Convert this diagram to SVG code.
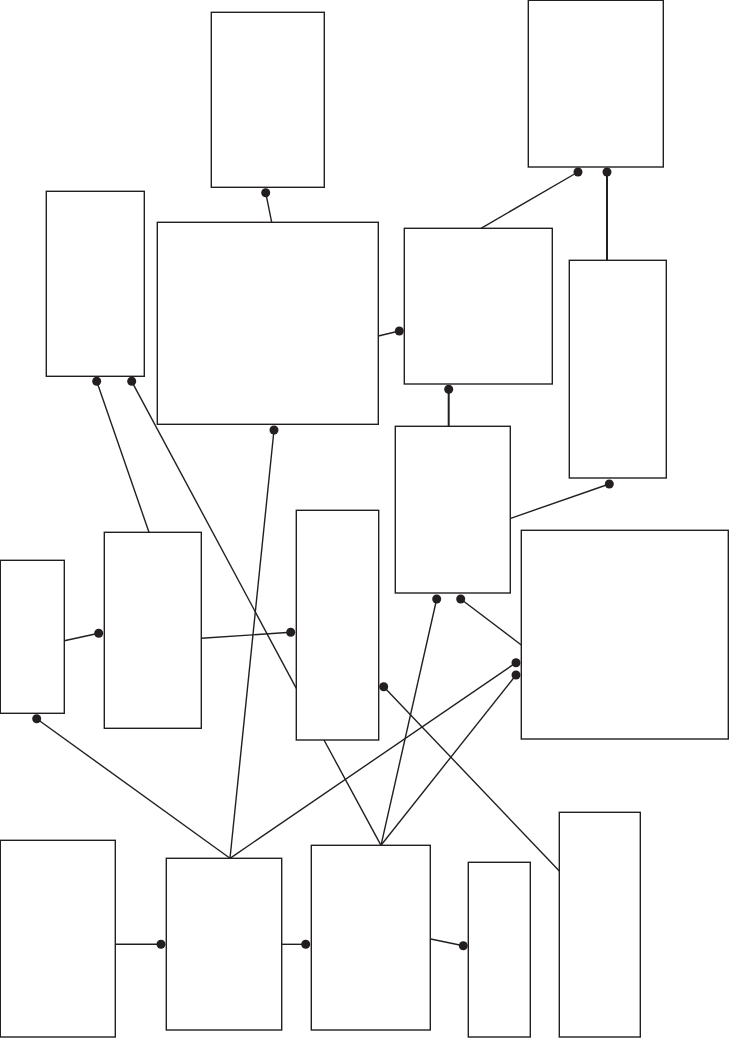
<svg xmlns="http://www.w3.org/2000/svg" width="729" height="1038" viewBox="0 0 729 1038">
<style>
.n{fill:#fff;stroke:#231f20;stroke-width:1.4}
.c line{stroke:#231f20;stroke-width:1.4;fill:none}
.c circle{fill:#231f20}
</style>
<rect width="729" height="1038" fill="#fff"/>
<g id="nodes">
<g id="nA"><rect class="n" x="211.3" y="12.3" width="113" height="175"/></g>
<g id="nB"><rect class="n" x="157.3" y="222.3" width="221" height="202"/></g>
<g id="nC"><rect class="n" x="46.3" y="191.3" width="98" height="185"/></g>
<g id="nD"><rect class="n" x="528.3" y="0.3" width="135" height="166.7"/></g>
<g id="nE"><rect class="n" x="404.3" y="228.3" width="148" height="155.7"/></g>
<g id="nF"><rect class="n" x="569.3" y="260.3" width="97" height="217.7"/></g>
<g id="nG"><rect class="n" x="395.3" y="426.3" width="115" height="166.7"/></g>
<g id="nH"><rect class="n" x="521.3" y="530.3" width="207" height="208.7"/></g>
<g id="nI"><rect class="n" x="296.3" y="510.3" width="82.4" height="229.7"/></g>
<g id="nJ"><rect class="n" x="0.3" y="560.3" width="64" height="153"/></g>
<g id="nK"><rect class="n" x="104.3" y="532.3" width="97" height="196"/></g>
<g id="nN"><rect class="n" x="0.3" y="840.3" width="115" height="196.7"/></g>
<g id="nL"><rect class="n" x="166.3" y="858.3" width="115.4" height="171.7"/></g>
<g id="nM"><rect class="n" x="311.3" y="845.3" width="119" height="184.7"/></g>
<g id="nO"><rect class="n" x="468.3" y="862.3" width="62" height="174.7"/></g>
<g id="nP"><rect class="n" x="559.3" y="812.3" width="81" height="224.7"/></g>
</g>
<g id="connectors" class="c">
<line x1="265.7" y1="192.7" x2="271.7" y2="222.3"/>
<circle cx="265.7" cy="192.7" r="4.5"/>
<line x1="378.3" y1="336" x2="399.3" y2="331"/>
<circle cx="399.3" cy="331" r="4.5"/>
<line x1="481" y1="228.3" x2="578" y2="172"/>
<circle cx="578" cy="172" r="4.5"/>
<line x1="607" y1="172" x2="607" y2="260.3" style="stroke-width:2"/>
<circle cx="607" cy="172" r="4.5"/>
<line x1="448.7" y1="389.3" x2="448.7" y2="426.3" style="stroke-width:2"/>
<circle cx="448.7" cy="389.3" r="4.5"/>
<line x1="510.7" y1="518.3" x2="609.3" y2="484"/>
<circle cx="609.3" cy="484" r="4.5"/>
<line x1="149" y1="532.3" x2="96.7" y2="381.3"/>
<circle cx="96.7" cy="381.3" r="4.5"/>
<line x1="131.7" y1="381.3" x2="296.3" y2="688.3"/>
<circle cx="131.7" cy="381.3" r="4.5"/>
<line x1="64.3" y1="640.7" x2="98.7" y2="633.3"/>
<circle cx="98.7" cy="633.3" r="4.5"/>
<line x1="201.3" y1="638.3" x2="290.7" y2="632.3"/>
<circle cx="290.7" cy="632.3" r="4.5"/>
<line x1="230" y1="858.3" x2="36.7" y2="718.7"/>
<circle cx="36.7" cy="718.7" r="4.5"/>
<line x1="230" y1="858.3" x2="274" y2="430"/>
<circle cx="274" cy="430" r="4.5"/>
<line x1="230" y1="858.3" x2="516" y2="662.7"/>
<circle cx="516" cy="662.7" r="4.5"/>
<line x1="381" y1="845.3" x2="436.7" y2="599"/>
<circle cx="436.7" cy="599" r="4.5"/>
<line x1="381" y1="845.3" x2="516" y2="675"/>
<circle cx="516" cy="675" r="4.5"/>
<line x1="381" y1="845.3" x2="324" y2="740"/>
<line x1="460.7" y1="599" x2="521.3" y2="645"/>
<circle cx="460.7" cy="599" r="4.5"/>
<line x1="383.7" y1="686.7" x2="559.3" y2="871"/>
<circle cx="383.7" cy="686.7" r="4.5"/>
<line x1="115.3" y1="944.3" x2="161" y2="944.3"/>
<circle cx="161" cy="944.3" r="4.5"/>
<line x1="281.7" y1="944.3" x2="305.7" y2="944.3"/>
<circle cx="305.7" cy="944.3" r="4.5"/>
<line x1="430.7" y1="939" x2="463.3" y2="945.7"/>
<circle cx="463.3" cy="945.7" r="4.5"/>
</g>
</svg>
